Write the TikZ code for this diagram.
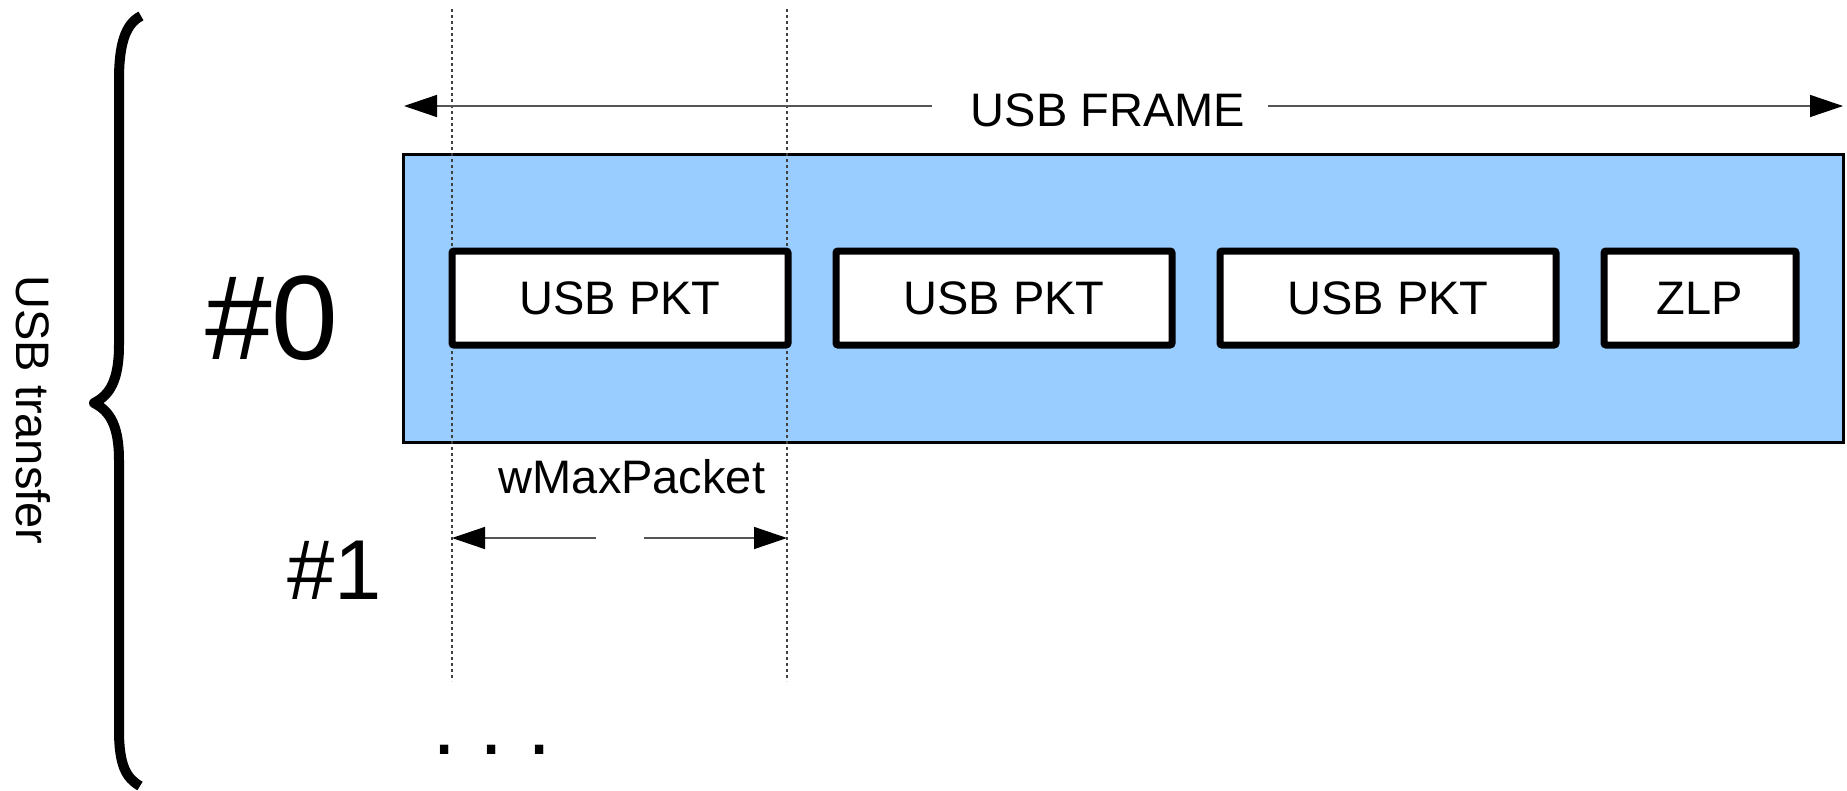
\documentclass[tikz,border=0pt]{standalone}
\usepackage{fontspec}
\setmainfont{Liberation Sans}
\usetikzlibrary{arrows.meta}
\definecolor{framefill}{HTML}{99CCFF}
\definecolor{dimline}{HTML}{555555}
\begin{document}
\begin{tikzpicture}[x=1pt,y=-1pt,
  lbl/.style={font=\fontsize{47}{56}\selectfont, inner sep=0pt},
  pkt/.style={draw=black, line width=7pt, fill=white, rounded corners=2pt,
    minimum width=336pt, minimum height=94pt, inner sep=0pt, outer sep=0pt,
    font=\fontsize{47}{56}\selectfont},
  dim/.style={draw=dimline, line width=1.5pt,
    -{Triangle[length=33pt,width=22pt,color=black]}},
  guide/.style={draw=black!75, line width=1.2pt, dash pattern=on 3pt off 3pt},
  bracestroke/.style={line width=10pt, line cap=butt, line join=round}
]
\useasboundingbox (0,0) rectangle (1847,790);

% transfer brace and its label
\draw[bracestroke] (141,16) .. controls (125,24) and (119,45) .. (119,80)
  -- (119,345) .. controls (119,380) and (110,395) .. (94,403)
  .. controls (110,411) and (119,426) .. (119,460)
  -- (119,730) .. controls (119,765) and (126,778) .. (140,786);
\node[lbl, rotate=-90] (transfer) at (33,410) {USB transfer};

% transfer numbers
\node[font=\fontsize{120}{130}\selectfont, anchor=base west, inner sep=0pt] (t0) at (205,359) {\#0};
\node[font=\fontsize{85}{95}\selectfont, anchor=base west, inner sep=0pt] (t1) at (287,599) {\#1};
\node[font=\fontsize{87}{95}\selectfont, anchor=base west, inner sep=0pt] (tn) at (432,754)
  {.\hspace{23.3pt}.\hspace{23.3pt}.};

% the frame
\node[draw=black, line width=3pt, fill=framefill, minimum width=1440pt,
  minimum height=288pt, inner sep=0pt, outer sep=0pt] (frame) at (1123,298) {};

% guides for the packet size
\coordinate (gtop) at (0,9);
\coordinate (gbot) at (0,681);
\coordinate (pktleft) at (452,298);
\coordinate (pktright) at (787,298);
\draw[guide] (pktleft |- gtop) -- (pktleft |- gbot);
\draw[guide] (pktright |- gtop) -- (pktright |- gbot);

% packets
\node[pkt] (p1) at (620,298) {USB PKT};
\node[pkt] (p2) at (1004,298) {USB PKT};
\node[pkt] (p3) at (1388,298) {USB PKT};
\node[pkt, minimum width=192pt] (zlp) at (1700,298) {ZLP};

% frame length
\node[lbl, anchor=base] (title) at (1108,126) {USB FRAME};
\coordinate (fl) at (932,106);
\coordinate (fr) at (1268,106);
\coordinate (ftipl) at (404,106);
\coordinate (ftipr) at (1843,106);
\draw[dim] (fl) -- (ftipl);
\draw[dim] (fr) -- (ftipr);

% packet length
\node[lbl, anchor=base] (wmax) at (632,493) {wMaxPacket};
\coordinate (wl) at (596,538);
\coordinate (wr) at (644,538);
\draw[dim] (wl) -- (pktleft |- wl);
\draw[dim] (wr) -- (pktright |- wr);
\end{tikzpicture}
\end{document}
